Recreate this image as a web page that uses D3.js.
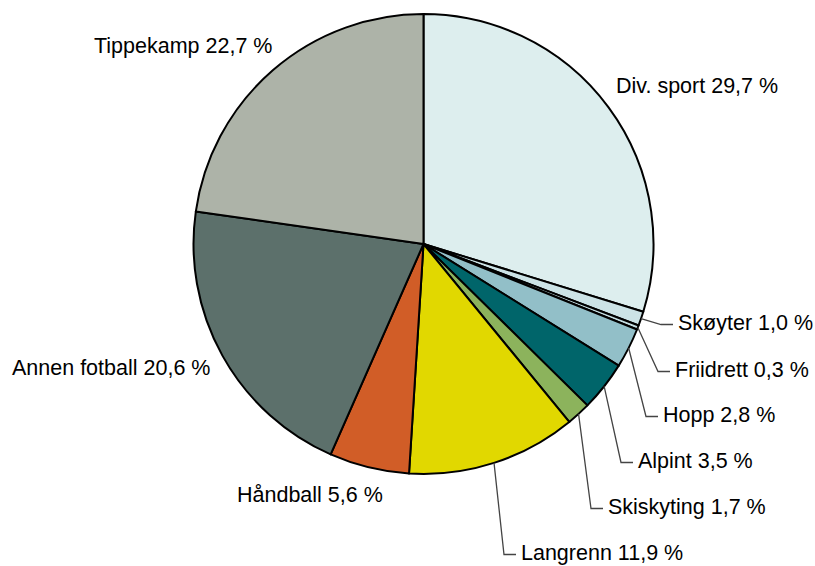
<!DOCTYPE html>
<html>
<head>
<meta charset="utf-8">
<script src="https://cdn.jsdelivr.net/npm/d3@7"></script>
<style>
  html, body { margin: 0; padding: 0; background: #fff; }
  svg { display: block; }
  text { font-family: "Liberation Sans", Arial, sans-serif; font-size: 21.5px; fill: #000; }
</style>
</head>
<body>
<svg id="chart" width="815" height="566"></svg>
<script>
// Data
const categories = ["Div. sport", "Skøyter", "Friidrett", "Hopp", "Alpint", "Skiskyting", "Langrenn", "Håndball", "Annen fotball", "Tippekamp"];
const values = [29.7, 1.0, 0.3, 2.8, 3.5, 1.7, 11.9, 5.6, 20.6, 22.7];
const valueLabels = ["29,7 %", "1,0 %", "0,3 %", "2,8 %", "3,5 %", "1,7 %", "11,9 %", "5,6 %", "20,6 %", "22,7 %"];
const colors = ["#ddeeee", "#cce3e6", "#c4dde1", "#92bfc8", "#00656a", "#8cb35c", "#e1d800", "#d15d27", "#5c706b", "#adb3a8"];

// Layout (label placement, pixels)
const cx = 423.5, cy = 244, radius = 230;
const labelLayout = [
  { x: 616, y: 93, leader: false },
  { x: 678, y: 330, leader: true },
  { x: 675, y: 377, leader: true },
  { x: 663, y: 422, leader: true },
  { x: 638, y: 468, leader: true },
  { x: 608, y: 514, leader: true },
  { x: 521, y: 560, leader: true },
  { x: 237, y: 502, leader: false },
  { x: 12, y: 375, leader: false },
  { x: 94, y: 53, leader: false }
];

const data = categories.map((c, i) => ({ cat: c, value: values[i], label: valueLabels[i], color: colors[i], pos: labelLayout[i] }));

const svg = d3.select("#chart");
const g = svg.append("g").attr("transform", `translate(${cx},${cy})`);

const pie = d3.pie().sort(null).value(d => d.value).startAngle(0).endAngle(2 * Math.PI);
const arcs = pie(data);
const arc = d3.arc().innerRadius(0).outerRadius(radius);

g.selectAll("path.slice").data(arcs).enter().append("path")
  .attr("class", "slice")
  .attr("d", arc)
  .attr("fill", d => d.data.color)
  .attr("stroke", "#000")
  .attr("stroke-width", 2)
  .attr("stroke-linejoin", "round");

// Leader lines
const leaders = svg.append("g");
arcs.forEach(a => {
  const p = a.data.pos;
  if (!p.leader) return;
  const mid = (a.startAngle + a.endAngle) / 2;
  const sx = cx + radius * Math.sin(mid);
  const sy = cy - radius * Math.cos(mid);
  const ly = p.y - 5.5;
  leaders.append("polyline")
    .attr("points", `${sx},${sy} ${p.x - 17},${ly} ${p.x - 5},${ly}`)
    .attr("fill", "none")
    .attr("stroke", "#444")
    .attr("stroke-width", 1.3);
});

// Labels
svg.append("g").selectAll("text").data(arcs).enter().append("text")
  .attr("x", d => d.data.pos.x)
  .attr("y", d => d.data.pos.y)
  .text(d => `${d.data.cat} ${d.data.label}`);
</script>
</body>
</html>
